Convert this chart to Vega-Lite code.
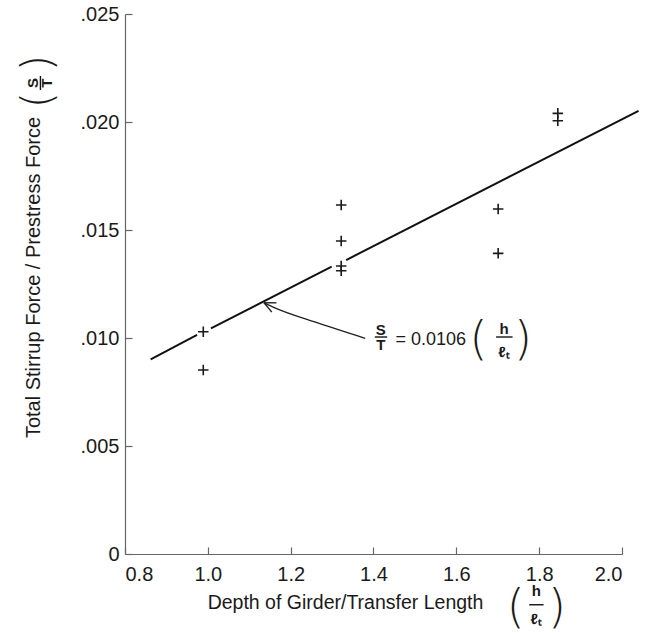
{
  "$schema": "https://vega.github.io/schema/vega-lite/v6.json",
  "width": 497,
  "height": 540,
  "autosize": "none",
  "padding": {"left": 125, "top": 14, "right": 35, "bottom": 79},
  "background": "white",
  "config": {"view": {"stroke": null}, "font": "Liberation Sans"},
  "datasets": {
    "points": [
      {"x": 1.322, "y": 0.01616},
      {"x": 1.322, "y": 0.01449},
      {"x": 1.322, "y": 0.01333},
      {"x": 1.322, "y": 0.01311},
      {"x": 0.989, "y": 0.01029},
      {"x": 0.989, "y": 0.00852},
      {"x": 1.845, "y": 0.0204},
      {"x": 1.845, "y": 0.02006},
      {"x": 1.701, "y": 0.01597},
      {"x": 1.701, "y": 0.01392}
    ],
    "fit": [
      {"seg": "a", "x": 0.862, "y": 0.00901},
      {"seg": "a", "x": 0.974, "y": 0.01014},
      {"seg": "b", "x": 1.0075, "y": 0.01045},
      {"seg": "b", "x": 1.299, "y": 0.0133},
      {"seg": "c", "x": 1.334, "y": 0.01361},
      {"seg": "c", "x": 2.04, "y": 0.02052}
    ],
    "arrow": [
      {"x": 1.1356, "y": 0.01163},
      {"x": 1.1647, "y": 0.011375},
      {"x": 1.256, "y": 0.010755},
      {"x": 1.38, "y": 0.009986}
    ],
    "head": [
      {"arm": "a", "x": 1.1356, "y": 0.01163},
      {"arm": "a", "x": 1.1655, "y": 0.01163},
      {"arm": "b", "x": 1.1356, "y": 0.01163},
      {"arm": "b", "x": 1.1545, "y": 0.0112}
    ],
    "labels": [
      {"g": "small", "t": "S", "x": 1.4178, "y": 0.01037},
      {"g": "small", "t": "T", "x": 1.4178, "y": 0.009676},
      {"g": "small", "t": "h", "x": 1.7155, "y": 0.010417},
      {"g": "small", "t": "ℓₜ", "x": 1.7155, "y": 0.009366},
      {"g": "small", "t": "h", "x": 1.7933, "y": -0.0017},
      {"g": "small", "t": "ℓₜ", "x": 1.7933, "y": -0.003},
      {"g": "eq", "t": "= 0.0106", "x": 1.4529, "y": 0.009907},
      {"g": "paren", "t": "(", "x": 1.6534, "y": 0.009907},
      {"g": "paren", "t": ")", "x": 1.761, "y": 0.009907},
      {"g": "paren", "t": "(", "x": 1.7436, "y": -0.0025},
      {"g": "paren", "t": ")", "x": 1.843, "y": -0.0025},
      {"g": "rsmall", "t": "S", "x": 0.5784, "y": 0.0218},
      {"g": "rsmall", "t": "T", "x": 0.6117, "y": 0.0218},
      {"g": "rparen", "t": "(", "x": 0.5933, "y": 0.02102},
      {"g": "rparen", "t": ")", "x": 0.5933, "y": 0.02273}
    ],
    "hbars": [
      {"x": 1.4032, "x2": 1.433, "y": 0.010046},
      {"x": 1.696, "x2": 1.7358, "y": 0.010046},
      {"x": 1.776, "x2": 1.8107, "y": -0.00235}
    ],
    "vbars": [
      {"x": 0.5958, "y": 0.02148, "y2": 0.02213}
    ]
  },
  "layer": [
    {
      "data": {"name": "points"},
      "mark": {"type": "point", "shape": "M-1,0L1,0M0,-1L0,1", "size": 110, "filled": false, "stroke": "#1a1a1a", "strokeWidth": 1.6, "opacity": 1},
      "encoding": {
        "x": {
          "field": "x", "type": "quantitative",
          "scale": {"domain": [0.8, 2.0], "nice": false, "zero": false},
          "axis": {
            "values": [0.8, 1.0, 1.2, 1.4, 1.6, 1.8, 2.0], "format": ".1f",
            "grid": false, "tickSize": -7, "labelPadding": 17,
            "domainColor": "#666", "tickColor": "#666", "domainWidth": 1.2, "tickWidth": 1.2,
            "labelFontSize": 20, "labelColor": "#1a1a1a", "labelFont": "Liberation Sans",
            "title": "Depth of Girder/Transfer Length", "titleFontSize": 19.5, "titleFontWeight": "normal",
            "titleColor": "#1a1a1a", "titleX": 220, "titleY": 48, "titleBaseline": "middle", "titleAlign": "center", "titleAnchor": null
          }
        },
        "y": {
          "field": "y", "type": "quantitative",
          "scale": {"domain": [0, 0.025], "nice": false, "zero": false},
          "axis": {
            "values": [0, 0.005, 0.01, 0.015, 0.02, 0.025],
            "labelExpr": "datum.value === 0 ? '0' : slice(format(datum.value, '.3f'), 1)",
            "grid": false, "tickSize": -7, "labelPadding": 13,
            "domainColor": "#666", "tickColor": "#666", "domainWidth": 1.2, "tickWidth": 1.2,
            "labelFontSize": 20, "labelColor": "#1a1a1a", "labelFont": "Liberation Sans",
            "title": "Total Stirrup Force / Prestress Force", "titleFontSize": 20, "titleFontWeight": "normal",
            "titleColor": "#1a1a1a", "titleX": -92, "titleY": 263, "titleAngle": 270, "titleBaseline": "middle", "titleAlign": "center", "titleAnchor": null
          }
        }
      }
    },
    {
      "data": {"name": "fit"},
      "mark": {"type": "line", "stroke": "#111", "strokeWidth": 2},
      "encoding": {
        "x": {"field": "x", "type": "quantitative"},
        "y": {"field": "y", "type": "quantitative"},
        "detail": {"field": "seg"}
      }
    },
    {
      "data": {"name": "arrow"},
      "mark": {"type": "line", "stroke": "#222", "strokeWidth": 1.4, "interpolate": "monotone"},
      "encoding": {
        "x": {"field": "x", "type": "quantitative"},
        "y": {"field": "y", "type": "quantitative"}
      }
    },
    {
      "data": {"name": "head"},
      "mark": {"type": "line", "stroke": "#222", "strokeWidth": 1.4},
      "encoding": {
        "x": {"field": "x", "type": "quantitative"},
        "y": {"field": "y", "type": "quantitative"},
        "detail": {"field": "arm"}
      }
    },
    {
      "data": {"name": "hbars"},
      "mark": {"type": "rule", "stroke": "#111", "strokeWidth": 1.4},
      "encoding": {
        "x": {"field": "x", "type": "quantitative"},
        "x2": {"field": "x2"},
        "y": {"field": "y", "type": "quantitative"}
      }
    },
    {
      "data": {"name": "vbars"},
      "mark": {"type": "rule", "stroke": "#111", "strokeWidth": 1.4},
      "encoding": {
        "x": {"field": "x", "type": "quantitative"},
        "y": {"field": "y", "type": "quantitative"},
        "y2": {"field": "y2"}
      }
    },
    {
      "data": {"name": "labels"},
      "transform": [{"filter": "datum.g === 'small'"}],
      "mark": {"type": "text", "fontSize": 15, "fontWeight": "bold", "color": "#1a1a1a", "baseline": "middle", "align": "center"},
      "encoding": {
        "x": {"field": "x", "type": "quantitative"},
        "y": {"field": "y", "type": "quantitative"},
        "text": {"field": "t"}
      }
    },
    {
      "data": {"name": "labels"},
      "transform": [{"filter": "datum.g === 'eq'"}],
      "mark": {"type": "text", "fontSize": 18, "color": "#1a1a1a", "baseline": "middle", "align": "left"},
      "encoding": {
        "x": {"field": "x", "type": "quantitative"},
        "y": {"field": "y", "type": "quantitative"},
        "text": {"field": "t"}
      }
    },
    {
      "data": {"name": "labels"},
      "transform": [{"filter": "datum.g === 'paren'"}],
      "mark": {"type": "text", "fontSize": 46, "font": "DejaVu Sans", "fontWeight": 200, "color": "#1a1a1a", "baseline": "middle", "align": "center"},
      "encoding": {
        "x": {"field": "x", "type": "quantitative"},
        "y": {"field": "y", "type": "quantitative"},
        "text": {"field": "t"}
      }
    },
    {
      "data": {"name": "labels"},
      "transform": [{"filter": "datum.g === 'rsmall'"}],
      "mark": {"type": "text", "fontSize": 15, "fontWeight": "bold", "angle": 270, "color": "#1a1a1a", "baseline": "middle", "align": "center"},
      "encoding": {
        "x": {"field": "x", "type": "quantitative"},
        "y": {"field": "y", "type": "quantitative"},
        "text": {"field": "t"}
      }
    },
    {
      "data": {"name": "labels"},
      "transform": [{"filter": "datum.g === 'rparen'"}],
      "mark": {"type": "text", "fontSize": 42, "font": "DejaVu Sans", "fontWeight": 200, "angle": 270, "color": "#1a1a1a", "baseline": "middle", "align": "center"},
      "encoding": {
        "x": {"field": "x", "type": "quantitative"},
        "y": {"field": "y", "type": "quantitative"},
        "text": {"field": "t"}
      }
    }
  ]
}
